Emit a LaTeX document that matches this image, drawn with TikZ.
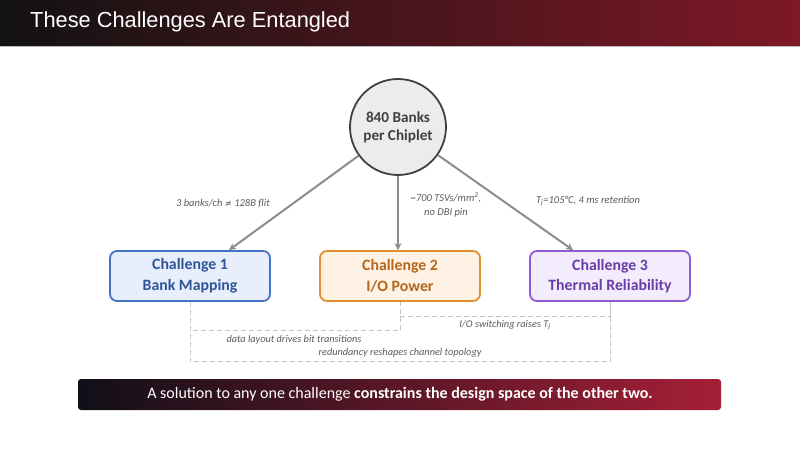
\documentclass[tikz,border=0pt]{standalone}
\usepackage{fontspec}
\setmainfont{Carlito}
\newfontfamily\headfont{Liberation Sans}
\newfontfamily\symfont{DejaVu Sans}
\usetikzlibrary{arrows.meta}
\definecolor{hdrleft}{HTML}{121212}
\definecolor{hdrright}{HTML}{7E1826}
\definecolor{hdrrule}{HTML}{B8B8B8}
\definecolor{hubfill}{HTML}{ECECEC}
\definecolor{hubline}{HTML}{404040}
\definecolor{linkgray}{HTML}{8C8C8C}
\definecolor{lbltext}{HTML}{5A5A5A}
\definecolor{tiegray}{HTML}{C4C4C4}
\definecolor{bluline}{HTML}{4472C4}
\definecolor{blufill}{HTML}{E8EEFB}
\definecolor{blutext}{HTML}{2F5597}
\definecolor{orgline}{HTML}{E0902E}
\definecolor{orgfill}{HTML}{FDF2E4}
\definecolor{orgtext}{HTML}{B5661C}
\definecolor{purline}{HTML}{8E5AD6}
\definecolor{purfill}{HTML}{F3ECFC}
\definecolor{purtext}{HTML}{6A3DA6}
\definecolor{banleft}{HTML}{110F18}
\definecolor{banright}{HTML}{A51F36}
\tikzset{
  ttl/.style={font=\headfont\fontsize{21.8}{26}\selectfont, text=white, anchor=west, inner sep=0pt},
  hub/.style={circle, draw=hubline, fill=hubfill, line width=1.8pt, minimum size=96pt, inner sep=0pt, align=center, font=\bfseries\fontsize{15.2}{18}\selectfont, text=hubline},
  chal/.style={rounded corners=7pt, line width=1.8pt, minimum width=160pt, minimum height=50pt, inner sep=0pt, align=center, font=\bfseries\fontsize{15.8}{20.5}\selectfont},
  link/.style={-{Stealth[length=7pt,width=7pt]}, draw=linkgray, line width=2pt},
  tie/.style={draw=tiegray, line width=1pt, dash pattern=on 5pt off 3pt},
  elbl/.style={font=\itshape\fontsize{10.5}{14}\selectfont, text=lbltext, inner sep=0pt, align=center},
  tlbl/.style={font=\itshape\fontsize{10.3}{12}\selectfont, text=lbltext, inner sep=0pt},
  ban/.style={font=\fontsize{16}{19}\selectfont, text=white, inner sep=0pt},
}
\begin{document}
\begin{tikzpicture}[x=1pt,y=1pt]
  \useasboundingbox (0,0) rectangle (800,-450);
  % header bar
  \shade[left color=hdrleft, right color=hdrright] (0,0) rectangle (800,-46);
  \draw[hdrrule, line width=1pt] (0,-46.5) -- (800,-46.5);
  \node[ttl] (title) at (30,-22) {These Challenges Are Entangled};
  % hub and challenges
  \node[hub] (bank) at (398,-127) {840 Banks\\per Chiplet};
  \node[chal, draw=bluline, fill=blufill, text=blutext] (ch1) at (190,-276) {Challenge 1\\Bank Mapping};
  \node[chal, draw=orgline, fill=orgfill, text=orgtext] (ch2) at (400,-276) {Challenge 2\\I/O Power};
  \node[chal, draw=purline, fill=purfill, text=purtext] (ch3) at (610,-276) {Challenge 3\\Thermal Reliability};
  \draw[link] (bank) -- ([xshift=39pt]ch1.north);
  \draw[link] (bank.south) -- (bank.south |- ch2.north);
  \draw[link] (bank) -- ([xshift=-37pt]ch3.north);
  \node[elbl] (l1) at (223,-203) {3 banks/ch {\symfont\fontsize{8.5}{10}\selectfont ≠} 128B flit};
  \node[elbl] (l2) at (446,-205) {\textasciitilde700 TSVs/mm\textsuperscript{2},\\no DBI pin};
  \node[elbl] (l3) at (588,-201) {T\textsubscript{j}=105°C, 4 ms retention};
  % coupling between challenges
  \draw[tie] (ch1.south) -- ++(0,-29) -| (ch2.south);
  \draw[tie] ([yshift=-15pt]ch2.south) -| (ch3.south);
  \draw[tie] (ch1.south) -- ++(0,-60) -| (ch3.south);
  \node[tlbl] (t12) at (294,-340) {data layout drives bit transitions};
  \node[tlbl] (t23) at (505,-325) {I/O switching raises T\textsubscript{j}};
  \node[tlbl] (t13) at (400,-353) {redundancy reshapes channel topology};
  % takeaway banner
  \shade[left color=banleft, right color=banright, rounded corners=3pt] (78,-379) rectangle (721,-410);
  \node[ban] (msg) at (400,-394.5) {A solution to any one challenge \textbf{constrains the design space of the other two.}};
\end{tikzpicture}
\end{document}
